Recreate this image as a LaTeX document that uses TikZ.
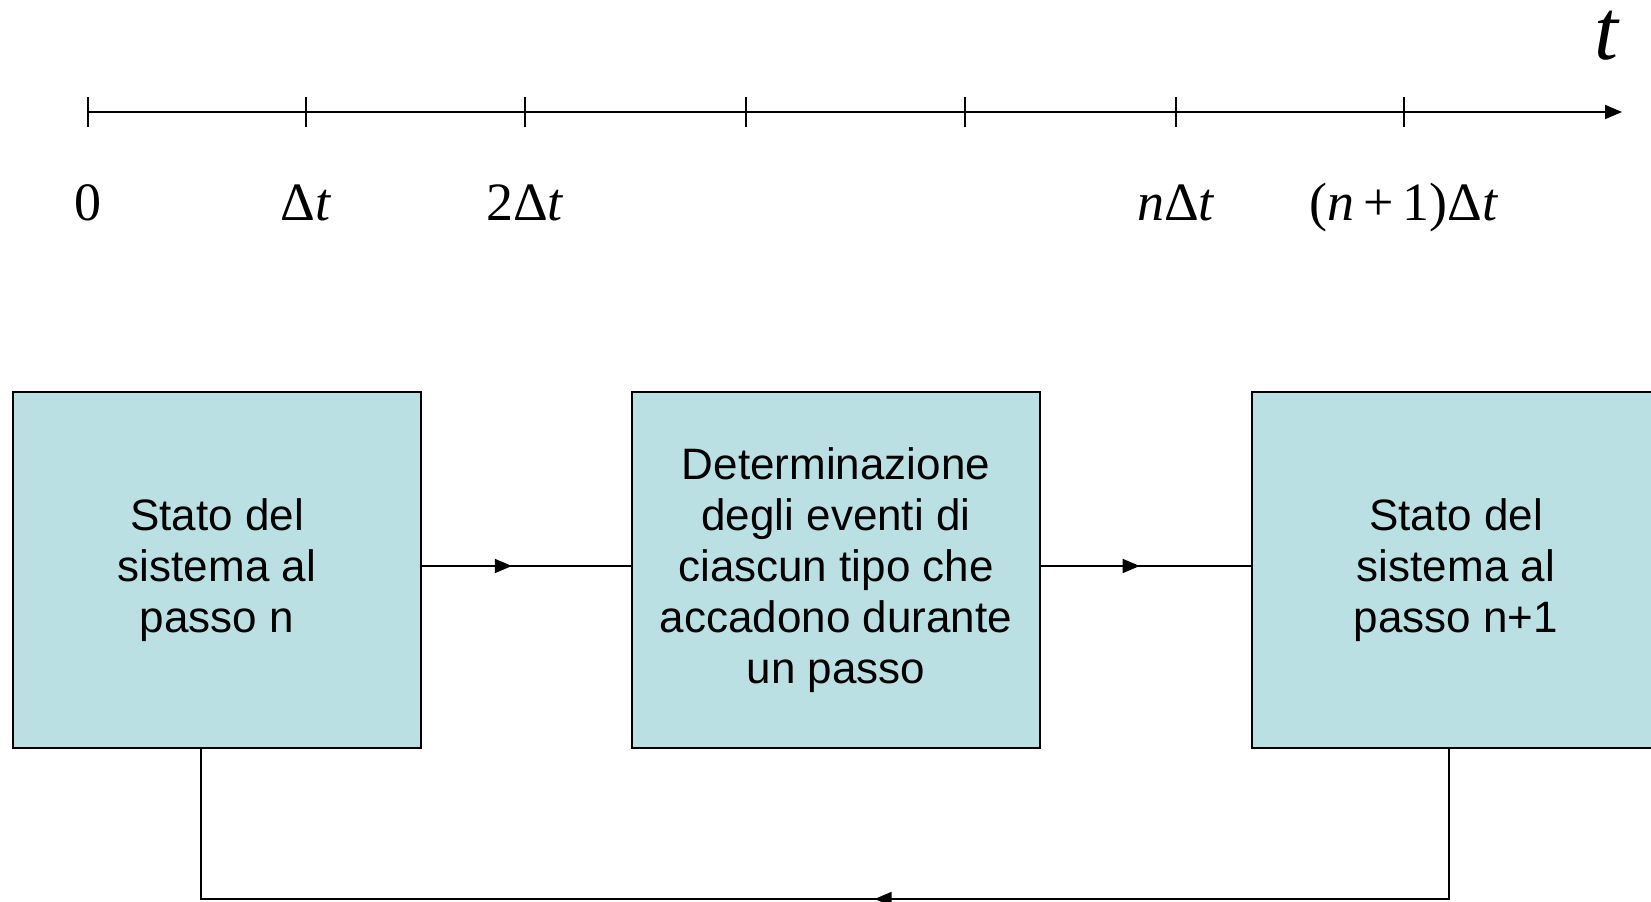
\documentclass[tikz,border=0pt]{standalone}
\usepackage{fontspec}
\setmainfont{Liberation Sans}
\newfontfamily\timesfont{Liberation Serif}
\usetikzlibrary{arrows.meta, decorations.markings}

\definecolor{statofill}{RGB}{187,224,227}

\begin{document}
\begin{tikzpicture}[x=0.5pt, y=0.5pt, >={Triangle[length=8.5pt, width=7pt]},
    blocco/.style={draw, line width=1pt, fill=statofill, minimum width=204pt, minimum height=178pt,
        align=center, font=\fontsize{22}{25.5}\selectfont},
    freccia/.style={line width=0.8pt, postaction={decorate},
        decoration={markings, mark=at position #1 with {\arrow{>}}}},
    tempo/.style={font=\timesfont\fontsize{27}{27}\selectfont, anchor=base}]
    \useasboundingbox (0,0) rectangle (1651,901);

    % Asse dei tempi con le tacche
    \draw[line width=1pt, ->] (88,789) -- (1622,789);
    \node[font=\timesfont\itshape\fontsize{43}{43}\selectfont, anchor=base, inner sep=0pt] (asse) at (1606,841) {t};
    \foreach \x/\etichetta [count=\i] in {88/0, 306/{Δ\textit{t}}, 525/{2Δ\textit{t}}, 746/{}, 965/{},
        1176/{\textit{n}Δ\textit{t}}, 1404/{(\textit{n}\,+\,1)Δ\textit{t}}}
    {
        \draw[line width=1pt] (\x,804) -- (\x,774);
        \node[tempo] (tacca\i) at (\x,680) {\etichetta};
    }

    % Blocchi dello schema
    \node[blocco] (statoN) at (217,331) {Stato del\\sistema al\\ passo n};
    \node[blocco] (eventi) at (836,331) {Determinazione\\degli eventi di\\ciascun tipo che\\accadono durante\\un passo};
    \node[blocco] (statoN1) at (1456,331) {Stato del\\sistema al\\ passo n+1};

    % Collegamenti
    \draw[freccia=0.43] ([yshift=2pt]statoN.east) -- ([yshift=2pt]eventi.west);
    \draw[freccia=0.47] ([yshift=2pt]eventi.east) -- ([yshift=2pt]statoN1.west);
    \draw[freccia=0.468] ([xshift=-3.5pt]statoN1.south) -- ++(0,-150) -| ([xshift=-8pt]statoN.south);
\end{tikzpicture}
\end{document}
